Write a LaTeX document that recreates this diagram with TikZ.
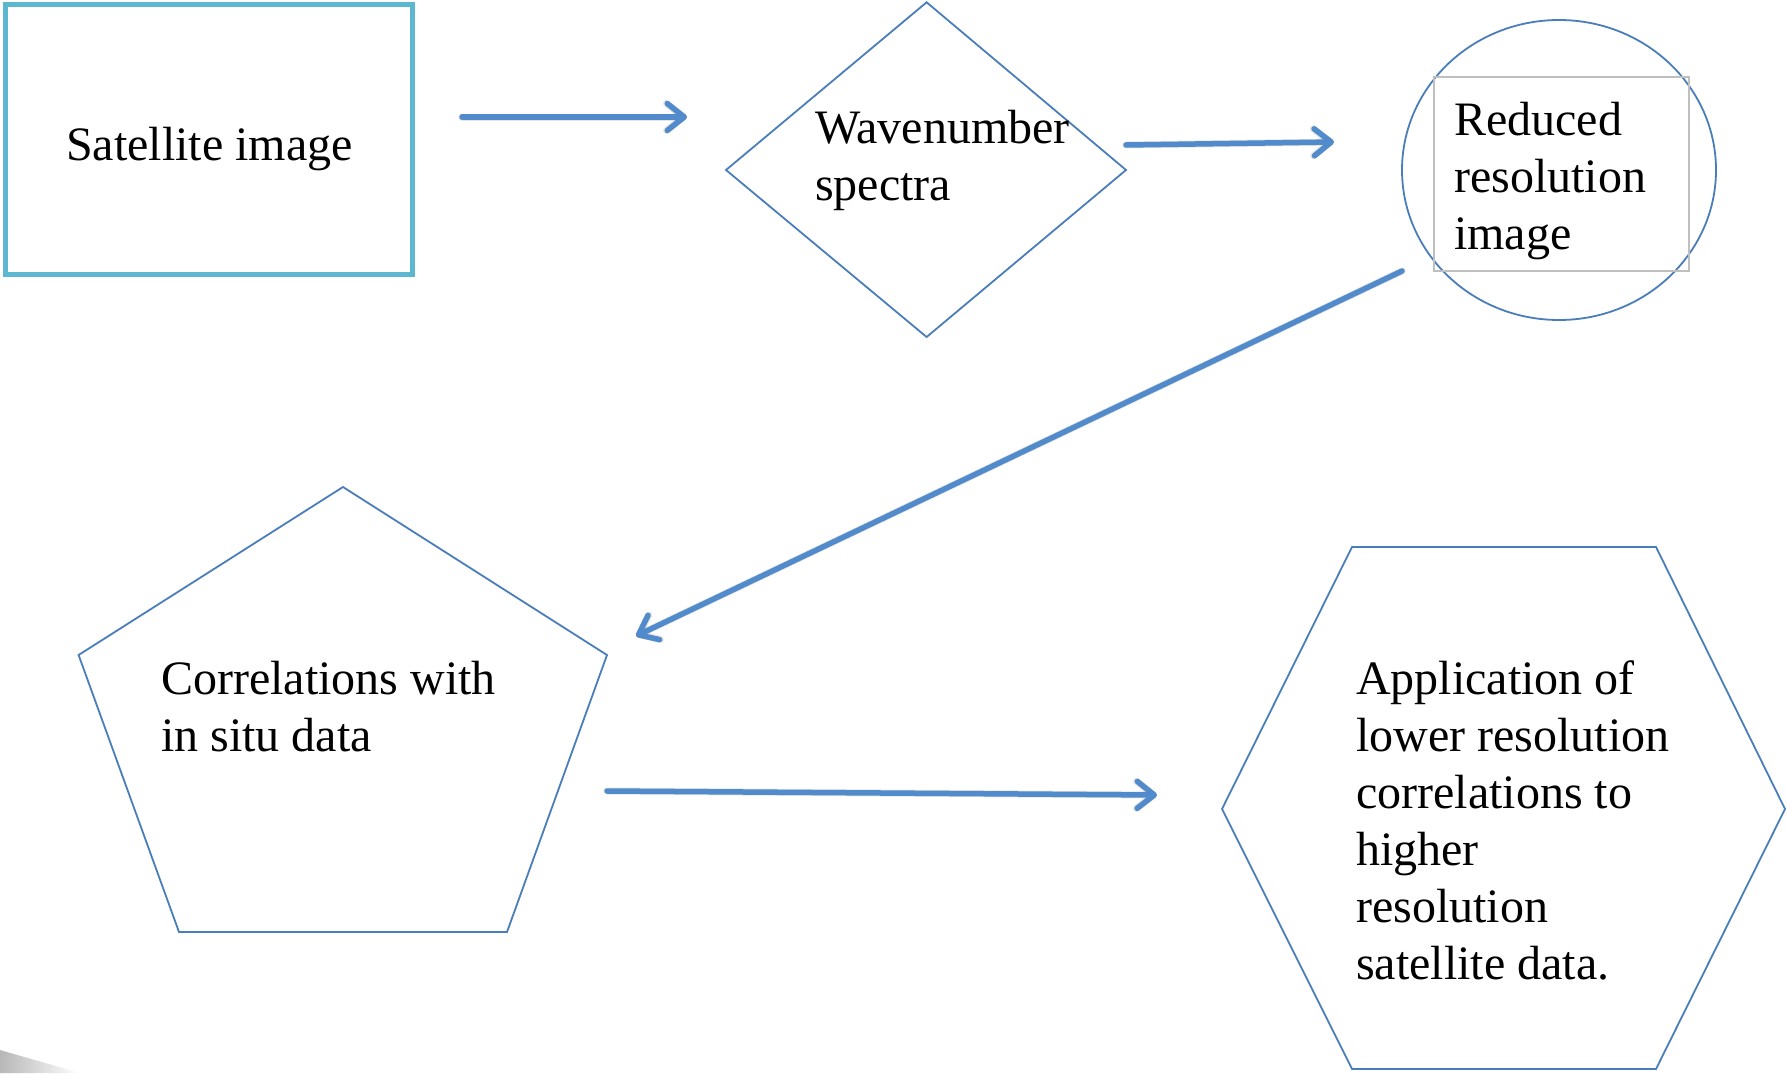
\documentclass[tikz,border=0pt]{standalone}
\usepackage{fontspec}
\setmainfont{Liberation Serif}
\usetikzlibrary{arrows.meta}
\definecolor{shapeblue}{RGB}{74,126,187}
\definecolor{arrowblue}{RGB}{82,139,203}
\definecolor{rectcyan}{RGB}{91,184,208}
\definecolor{boxgray}{RGB}{191,191,191}
\begin{document}
\begin{tikzpicture}[x=1pt,y=-1pt,
  txt/.style={anchor=base west, inner sep=0pt, font=\fontsize{48}{57}\selectfont},
  outline/.style={draw=shapeblue, line width=1.8pt, line join=miter},
  flowtip/.style={-{Straight Barb[length=17pt,width=27pt,round]}},
  flow/.style={draw=arrowblue, line width=5.5pt, line cap=round, flowtip},
  flowshadow/.style={draw=black, opacity=0.10, line width=7pt, line cap=round, flowtip,
    shift={(1.5pt,-3.5pt)}}]
\useasboundingbox (0,0) rectangle (1787,1073);
\fill[white] (0,0) rectangle (1787,1073);
% page curl shadow
\shade[left color=black!28, right color=white] (0,1050) -- (80,1073) -- (0,1073) -- cycle;

% shapes
\draw[draw=rectcyan, line width=5pt] (5,5) rectangle (412,274);
\draw[outline] (926.6,2.3) -- (1126,170) -- (926.6,337) -- (726,170) -- cycle;
\draw[outline] (1559,170) ellipse [x radius=157pt, y radius=150pt];
\draw[draw=boxgray, line width=1.5pt] (1434,77) rectangle (1689,271);
\draw[outline] (343,487) -- (607,655) -- (507,932) -- (179,932) -- (78.6,655) -- cycle;
\draw[outline] (1352,547) -- (1656,547) -- (1785,809) -- (1656,1069) -- (1352,1069) -- (1222,809) -- cycle;

% texts
\node[txt] (tsat) at (66,160) {Satellite image};
\node[txt] (twave) at (815,143) {\vtop{\hbox{Wavenumber}\hbox{spectra}}};
\node[txt] (tred) at (1454,135) {\vtop{\hbox{Reduced}\hbox{resolution}\hbox{image}}};
\node[txt] (tcor) at (161,694) {\vtop{\hbox{Correlations with}\hbox{in situ data}}};
\node[txt] (tapp) at (1356,694) {\vtop{\hbox{Application of}\hbox{lower resolution}\hbox{correlations to}\hbox{higher}\hbox{resolution}\hbox{satellite data.}}};

% connectors
\coordinate (a1s) at (462,117);  \coordinate (a1e) at (687,117);
\coordinate (a2s) at (1126,145); \coordinate (a2e) at (1334,142);
\coordinate (a3s) at (1402,271); \coordinate (a3e) at (636,636);
\coordinate (a4s) at (607,791);  \coordinate (a4e) at (1157,795);
\draw[flowshadow] (a1s) -- (a1e);
\draw[flowshadow] (a2s) -- (a2e);
\draw[flowshadow] (a3s) -- (a3e);
\draw[flowshadow] (a4s) -- (a4e);
\draw[flow] (a1s) -- (a1e);
\draw[flow] (a2s) -- (a2e);
\draw[flow] (a3s) -- (a3e);
\draw[flow] (a4s) -- (a4e);
\end{tikzpicture}
\end{document}
